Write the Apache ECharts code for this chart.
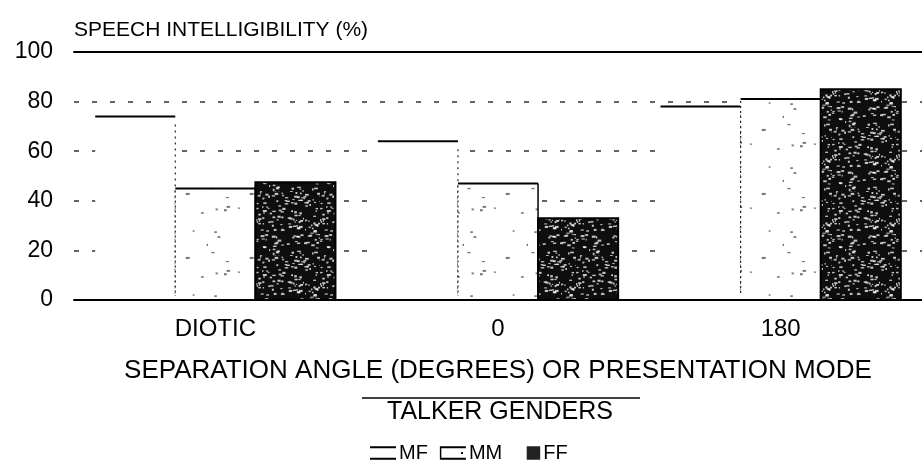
<!DOCTYPE html>
<html>
<head>
<meta charset="utf-8">
<script src="https://cdn.jsdelivr.net/npm/echarts@6/dist/echarts.min.js"></script>
<style>
  html, body { margin: 0; padding: 0; background: #fff; }
  #chart { width: 922px; height: 473px; }
</style>
</head>
<body>
<div id="chart"></div>
<script>
// ---- data ----
const categories = ['DIOTIC', '0', '180'];
const seriesNames = ['MF', 'MM', 'FF'];
const mfValues = [74, 64, 78];
const mmValues = [45, 47, 81];
const ffValues = [47.5, 33, 85];
const yTicks = [0, 20, 40, 60, 80, 100];
const yTitle = 'SPEECH INTELLIGIBILITY (%)';
const xTitle = 'SEPARATION ANGLE (DEGREES) OR PRESENTATION MODE';
const legendTitle = 'TALKER GENDERS';

const FONT = '"Liberation Sans", Arial, Helvetica, sans-serif';

// deterministic speckle textures (visual only)
function makePattern(bg, dot, count, size, seed) {
  const c = document.createElement('canvas');
  c.width = size; c.height = size;
  const g = c.getContext('2d');
  g.fillStyle = bg; g.fillRect(0, 0, size, size);
  let s = seed;
  const rnd = () => { s = (s * 1103515245 + 12345) % 2147483648; return s / 2147483648; };
  g.fillStyle = dot;
  for (let i = 0; i < count; i++) {
    const x = rnd() * size, y = rnd() * size;
    const w = 1 + rnd() * 3, h = 1 + rnd() * 1.2;
    g.fillRect(x, y, w, h);
  }
  return c;
}
const ffPattern = { image: makePattern('#0e0e0e', 'rgba(240,240,240,0.8)', 170, 64, 7), repeat: 'repeat' };
const mmPattern = { image: makePattern('#ffffff', 'rgba(60,60,60,0.7)', 12, 64, 3), repeat: 'repeat' };

const GROUP_FILL = 0.85; // fraction of category band occupied by the 3 bars

function barGeom(api, idx) {
  const cat = api.value(0), val = api.value(1);
  const base = api.coord([cat, 0]);
  const top = api.coord([cat, val]);
  const band = api.size([1, 0])[0];
  const bw = band * GROUP_FILL / 3;
  const x0 = base[0] - 1.5 * bw + idx * bw;
  return { x0, bw, yTop: top[1], yBase: base[1] };
}

function renderMF(params, api) {
  const g = barGeom(api, 0);
  return {
    type: 'group',
    children: [
      { type: 'rect', shape: { x: g.x0, y: g.yTop, width: g.bw, height: g.yBase - g.yTop }, style: { fill: '#fff' } },
      { type: 'line', shape: { x1: g.x0, y1: g.yTop, x2: g.x0 + g.bw, y2: g.yTop }, style: { stroke: '#000', lineWidth: 2 } },
      { type: 'line', shape: { x1: g.x0 + g.bw, y1: g.yTop + 8, x2: g.x0 + g.bw, y2: g.yBase - 6 }, style: { stroke: '#222', lineWidth: 1.2, lineDash: [2, 4] } }
    ]
  };
}
function renderMM(params, api) {
  const g = barGeom(api, 1);
  return {
    type: 'group',
    children: [
      { type: 'rect', shape: { x: g.x0, y: g.yTop, width: g.bw, height: g.yBase - g.yTop }, style: { fill: mmPattern } },
      { type: 'line', shape: { x1: g.x0, y1: g.yTop, x2: g.x0 + g.bw, y2: g.yTop }, style: { stroke: '#000', lineWidth: 2 } },
      { type: 'line', shape: { x1: g.x0, y1: g.yTop + 2, x2: g.x0, y2: g.yBase - 4 }, style: { stroke: '#222', lineWidth: 1.2, lineDash: [2, 3] } },
      { type: 'line', shape: { x1: g.x0 + g.bw, y1: g.yTop, x2: g.x0 + g.bw, y2: g.yBase }, style: { stroke: '#000', lineWidth: 1.5 } }
    ]
  };
}
function renderFF(params, api) {
  const g = barGeom(api, 2);
  return {
    type: 'rect',
    shape: { x: g.x0, y: g.yTop, width: g.bw, height: g.yBase - g.yTop },
    style: { fill: ffPattern, stroke: '#000', lineWidth: 2 }
  };
}

const toPairs = arr => arr.map((v, i) => [i, v]);

const chart = echarts.init(document.getElementById('chart'), null, { renderer: 'canvas' });
chart.setOption({
  animation: false,
  backgroundColor: '#fff',
  textStyle: { fontFamily: FONT, color: '#000' },
  grid: { left: 74, right: -7, top: 52, bottom: 173, containLabel: false },
  xAxis: [
    {
      type: 'category',
      data: categories,
      position: 'bottom',
      z: 10,
      axisLine: { show: true, lineStyle: { color: '#000', width: 2 } },
      axisTick: { show: false },
      axisLabel: { fontSize: 24, color: '#000', fontFamily: FONT, margin: 17 },
      name: xTitle,
      nameLocation: 'middle',
      nameGap: 58,
      nameTextStyle: { fontSize: 26, color: '#000', fontFamily: FONT }
    },
    {
      type: 'category',
      data: categories,
      position: 'top',
      z: 10,
      axisLine: { show: true, lineStyle: { color: '#000', width: 2 } },
      axisTick: { show: false },
      axisLabel: { show: false }
    }
  ],
  yAxis: {
    type: 'value',
    min: yTicks[0],
    max: yTicks[yTicks.length - 1],
    interval: 20,
    axisLine: { show: false },
    axisTick: { show: false },
    axisLabel: { fontSize: 23, color: '#000', fontFamily: FONT, margin: 21 },
    splitLine: { show: true, lineStyle: { color: '#333', width: 1.5, type: [5, 13] } },
    name: yTitle,
    nameLocation: 'end',
    nameGap: 22,
    nameTextStyle: { fontSize: 21, color: '#000', fontFamily: FONT, align: 'left', verticalAlign: 'middle' }
  },
  legend: {
    left: 370,
    top: 443,
    padding: 0,
    itemWidth: 26,
    itemHeight: 14,
    itemGap: 12,
    textStyle: { fontSize: 20, color: '#000', fontFamily: FONT, padding: [0, 0, 0, -2] },
    data: [
      { name: 'MF', icon: 'path://M0,0H27V2H0Z M0,12H27V14H0Z', itemStyle: { color: '#000' } },
      { name: 'MM', icon: 'path://M0,0H27V2H0Z M0,12H27V14H0Z M0,2H1.5V12H0Z M22,6H24V8H22Z', itemStyle: { color: '#000' } },
      { name: 'FF', icon: 'path://M0,7L0.1,7L0.1,7.1Z M13,0H27V14H13Z', itemStyle: { color: '#222' } }
    ]
  },
  series: [
    { type: 'custom', name: seriesNames[0], renderItem: renderMF, data: toPairs(mfValues), encode: { x: 0, y: 1 }, z: 3 },
    { type: 'custom', name: seriesNames[1], renderItem: renderMM, data: toPairs(mmValues), encode: { x: 0, y: 1 }, z: 4 },
    { type: 'custom', name: seriesNames[2], renderItem: renderFF, data: toPairs(ffValues), encode: { x: 0, y: 1 }, z: 5 }
  ],
  graphic: [
    { type: 'line', shape: { x1: 362, y1: 398, x2: 640, y2: 398 }, style: { stroke: '#000', lineWidth: 1.5 } },
    { type: 'text', x: 500, y: 412, style: { text: legendTitle, font: '25px ' + FONT, fill: '#000', textAlign: 'center', textVerticalAlign: 'middle' } }
  ]
});
</script>
</body>
</html>
